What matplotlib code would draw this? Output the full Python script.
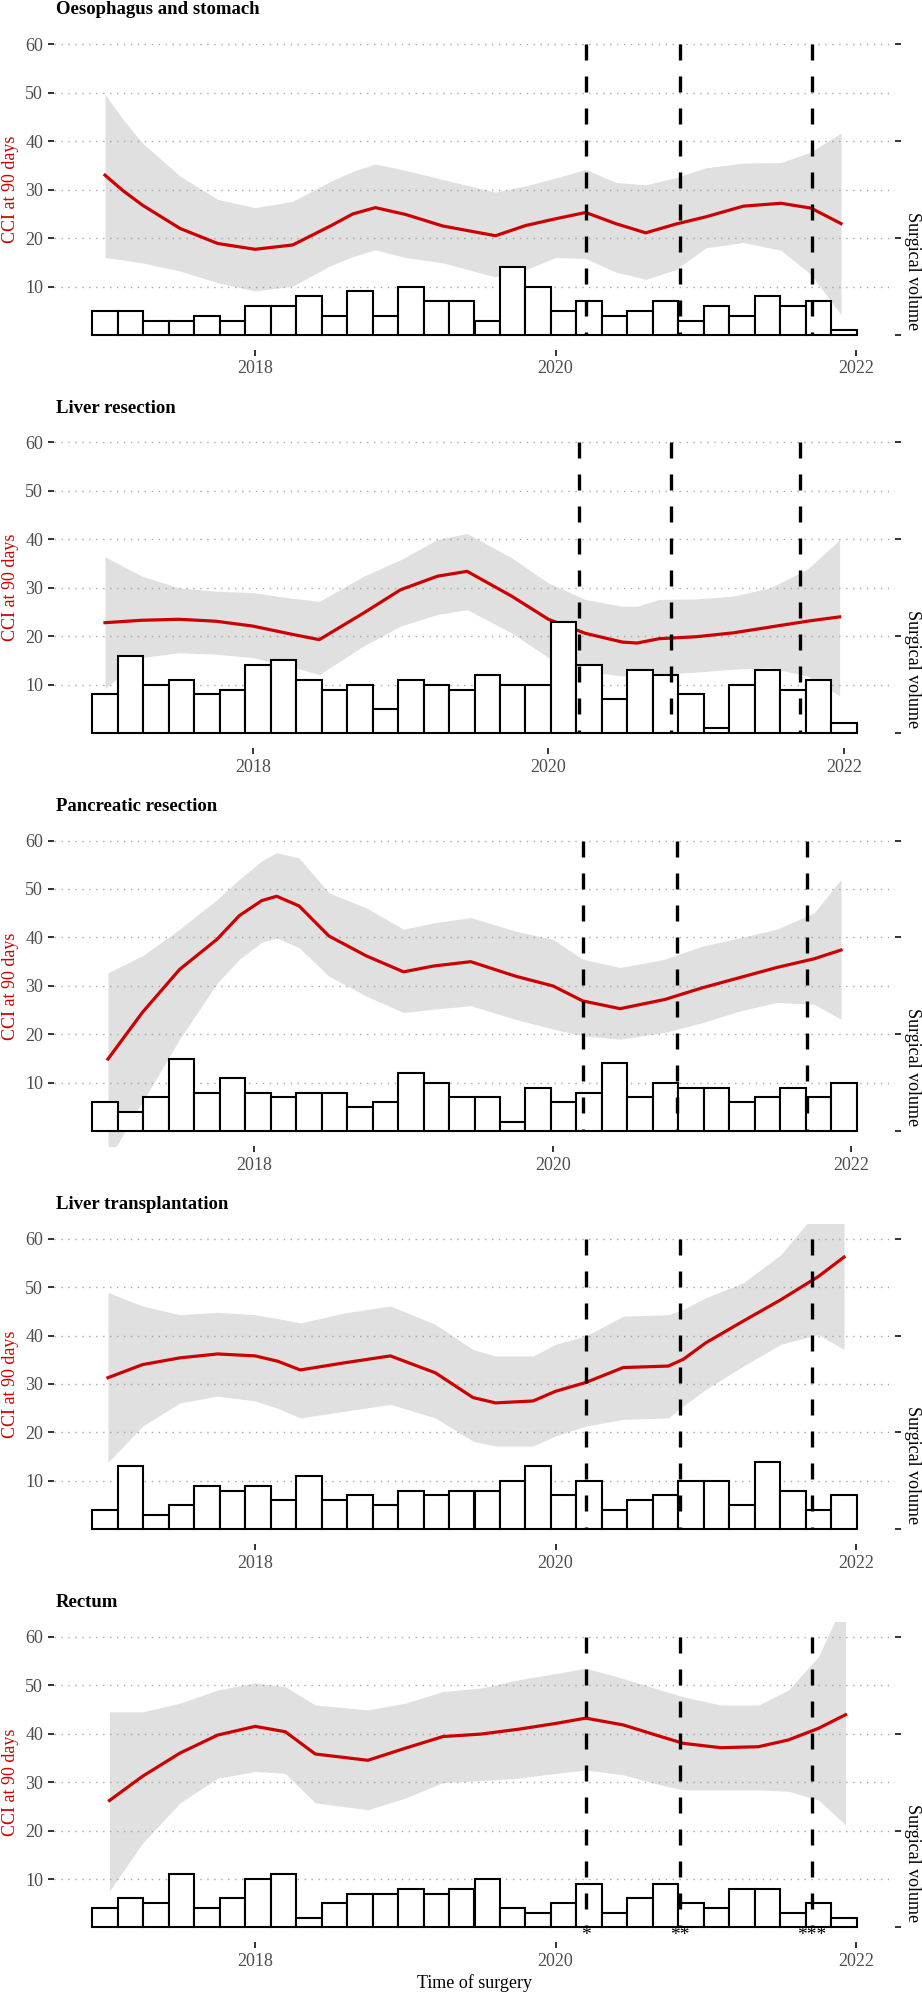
import numpy as np
import matplotlib
matplotlib.use("Agg")
import matplotlib.pyplot as plt

plt.rcParams['font.family'] = ['Liberation Serif', 'DejaVu Serif']

# Panels
panel_titles = ["Oesophagus and stomach", "Liver resection", "Pancreatic resection",
                "Liver transplantation", "Rectum"]

# Histogram: first / last bin centre (decimal years), 30 bins of surgical volume
first_dates = [2017.0, 2017.0, 2017.0, 2017.0, 2017.0]
last_dates = [2021.92, 2022.0, 2021.95, 2021.92, 2021.92]

vol_oeso = [5, 5, 3, 3, 4, 3, 6, 6, 8, 4, 9, 4, 10, 7, 7, 3, 14, 10, 5, 7, 4, 5, 7, 3, 6, 4, 8, 6, 7, 1]
vol_liver = [8, 16, 10, 11, 8, 9, 14, 15, 11, 9, 10, 5, 11, 10, 9, 12, 10, 10, 23, 14, 7, 13, 12, 8, 1, 10, 13, 9, 11, 2]
vol_panc = [6, 4, 7, 15, 8, 11, 8, 7, 8, 8, 5, 6, 12, 10, 7, 7, 2, 9, 6, 8, 14, 7, 10, 9, 9, 6, 7, 9, 7, 10]
vol_ltx = [4, 13, 3, 5, 9, 8, 9, 6, 11, 6, 7, 5, 8, 7, 8, 8, 10, 13, 7, 10, 4, 6, 7, 10, 10, 5, 14, 8, 4, 7]
vol_rect = [4, 6, 5, 11, 4, 6, 10, 11, 2, 5, 7, 7, 8, 7, 8, 10, 4, 3, 5, 9, 3, 6, 9, 5, 4, 8, 8, 3, 5, 2]

# Smoothed CCI at 90 days (line) with confidence band
x_oeso = [2017.0, 2017.12, 2017.25, 2017.5, 2017.75, 2018.0, 2018.25, 2018.5, 2018.65, 2018.8, 2019.0, 2019.25,
          2019.6, 2019.8, 2020.0, 2020.2, 2020.4, 2020.6, 2020.8, 2021.0, 2021.25, 2021.5, 2021.7, 2021.9]
cci_oeso = [33.0, 29.8, 26.8, 22.0, 18.9, 17.7, 18.6, 22.5, 25.0, 26.3, 24.9, 22.5,
            20.5, 22.6, 24.0, 25.3, 23.0, 21.1, 22.9, 24.4, 26.6, 27.2, 26.2, 23.0]
hi_oeso = [49.7, 44.5, 39.6, 32.8, 28.0, 26.3, 27.6, 31.7, 33.8, 35.3, 34.0, 32.1,
           29.5, 30.8, 32.4, 34.2, 31.5, 31.0, 32.5, 34.5, 35.5, 35.6, 37.8, 41.7]
lo_oeso = [16.0, 15.5, 14.9, 13.2, 10.8, 9.1, 10.1, 14.3, 16.2, 17.6, 16.0, 14.9,
           12.0, 13.5, 16.0, 15.8, 13.0, 11.5, 13.5, 18.0, 19.1, 17.5, 12.5, 4.2]

x_liver = [2017.0, 2017.25, 2017.5, 2017.75, 2018.0, 2018.25, 2018.45, 2018.75, 2019.0, 2019.25, 2019.45,
           2019.75, 2020.0, 2020.25, 2020.5, 2020.6, 2020.75, 2021.0, 2021.25, 2021.5, 2021.75, 2021.97]
cci_liver = [22.8, 23.3, 23.5, 23.1, 22.1, 20.5, 19.3, 24.8, 29.6, 32.4, 33.4,
             28.3, 23.5, 20.6, 18.8, 18.6, 19.5, 19.9, 20.7, 21.9, 23.1, 24.0]
hi_liver = [36.4, 32.4, 30.0, 29.3, 29.0, 27.9, 27.2, 32.4, 35.8, 40.0, 41.2,
            36.2, 31.0, 27.6, 26.2, 26.2, 27.6, 27.7, 28.3, 30.0, 33.8, 39.9]
lo_liver = [9.2, 15.6, 16.6, 16.3, 15.6, 13.8, 12.1, 18.0, 22.1, 24.5, 25.5,
            20.7, 15.6, 12.8, 11.8, 11.9, 12.1, 12.6, 13.2, 13.5, 11.8, 7.7]

x_panc = [2017.02, 2017.25, 2017.5, 2017.75, 2017.9, 2018.05, 2018.15, 2018.3, 2018.5, 2018.75, 2019.0, 2019.2,
          2019.45, 2019.75, 2020.0, 2020.2, 2020.45, 2020.75, 2021.0, 2021.25, 2021.5, 2021.75, 2021.93]
cci_panc = [14.9, 24.5, 33.4, 39.6, 44.5, 47.6, 48.5, 46.5, 40.3, 36.2, 32.9, 34.1,
            35.0, 32.0, 30.0, 26.9, 25.3, 27.2, 29.6, 31.7, 33.8, 35.6, 37.4]
hi_panc = [32.7, 36.2, 41.7, 47.8, 52.0, 55.8, 57.5, 56.4, 49.2, 46.1, 41.7, 43.0,
           44.1, 41.3, 39.6, 35.5, 33.8, 35.5, 38.2, 39.9, 41.7, 45.1, 52.0]
lo_panc = [-6.0, 6.0, 19.0, 30.5, 35.5, 39.0, 39.9, 37.9, 32.0, 27.9, 24.5, 25.2,
           25.9, 23.1, 21.1, 19.7, 19.0, 20.4, 22.4, 24.8, 26.6, 26.2, 23.1]

x_ltx = [2017.02, 2017.25, 2017.5, 2017.75, 2018.0, 2018.15, 2018.3, 2018.6, 2018.9, 2019.2, 2019.45,
         2019.6, 2019.85, 2020.0, 2020.2, 2020.45, 2020.75, 2020.85, 2021.0, 2021.25, 2021.5, 2021.75, 2021.92]
cci_ltx = [31.3, 34.0, 35.4, 36.2, 35.8, 34.7, 32.9, 34.4, 35.8, 32.3, 27.2,
           26.1, 26.5, 28.5, 30.3, 33.4, 33.7, 35.1, 38.5, 43.0, 47.4, 52.2, 56.2]
hi_ltx = [48.9, 46.1, 44.3, 44.8, 44.3, 43.5, 42.6, 44.7, 46.1, 42.3, 37.1,
          35.8, 35.8, 38.2, 39.9, 44.0, 44.3, 45.4, 47.8, 50.9, 56.7, 66.0, 75.0]
lo_ltx = [13.8, 21.3, 26.1, 27.5, 26.5, 25.0, 23.0, 24.4, 25.8, 23.0, 18.2,
          17.2, 17.2, 19.3, 21.3, 22.7, 23.0, 25.5, 28.9, 33.7, 38.2, 40.2, 37.1]

x_rect = [2017.03, 2017.25, 2017.5, 2017.75, 2018.0, 2018.2, 2018.4, 2018.75, 2019.0, 2019.25, 2019.5,
          2019.75, 2020.0, 2020.2, 2020.45, 2020.7, 2020.85, 2021.1, 2021.35, 2021.55, 2021.75, 2021.93]
cci_rect = [26.2, 31.2, 36.0, 39.7, 41.5, 40.4, 35.8, 34.5, 37.0, 39.4, 39.9,
            40.9, 42.1, 43.2, 41.8, 39.4, 38.0, 37.1, 37.3, 38.7, 41.1, 43.9]
hi_rect = [44.5, 44.5, 46.3, 49.0, 50.5, 49.7, 45.9, 44.9, 46.3, 48.7, 49.4,
           51.1, 52.4, 53.5, 51.4, 49.0, 47.6, 45.9, 45.9, 49.0, 55.9, 68.0]
lo_rect = [7.5, 17.4, 25.7, 30.8, 32.2, 31.8, 25.7, 24.3, 26.7, 29.9, 30.3,
           30.8, 31.8, 32.5, 31.5, 29.4, 28.4, 28.4, 28.4, 28.1, 26.3, 21.2]

volumes = [vol_oeso, vol_liver, vol_panc, vol_ltx, vol_rect]
smooth_x = [x_oeso, x_liver, x_panc, x_ltx, x_rect]
smooth_cci = [cci_oeso, cci_liver, cci_panc, cci_ltx, cci_rect]
smooth_hi = [hi_oeso, hi_liver, hi_panc, hi_ltx, hi_rect]
smooth_lo = [lo_oeso, lo_liver, lo_panc, lo_ltx, lo_rect]

# Breakpoints (dashed lines) and their marks on the last panel
break_dates = [2020.205, 2020.83, 2021.705]
break_marks = ["*", "**", "***"]

cci_ticks = [10, 20, 30, 40, 50, 60]
vol_ticks = [0, 20, 40, 60]
year_ticks = [2018, 2020, 2022]

W, H = 922, 1995
fig = plt.figure(figsize=(W / 100, H / 100), dpi=100)

red = "#CD0000"
tick_grey = "#4D4D4D"

for i in range(5):
    top_px = 29.8 + 398.1 * i
    height_px = 319.8
    ax = fig.add_axes([54 / W, 1 - (top_px + height_px) / H, (895 - 54) / W, height_px / H])

    # grid
    for t in cci_ticks:
        ax.axhline(t, color="#A6A6A6", lw=1.0, linestyle=(0, (1, 4)), zorder=0)

    # smooth + band
    ax.fill_between(smooth_x[i], smooth_lo[i], smooth_hi[i], color="#999999", alpha=0.3,
                    linewidth=0, zorder=1)
    ax.plot(smooth_x[i], smooth_cci[i], color=red, lw=2.3, zorder=2, solid_joinstyle="round")

    # histogram of volume
    n = len(volumes[i])
    width = (last_dates[i] - first_dates[i]) / (n - 1)
    centers = np.linspace(first_dates[i], last_dates[i], n)
    ax.bar(centers, volumes[i], width=width, color="white", edgecolor="black",
           linewidth=1.5, zorder=3)

    # breakpoints
    for d in break_dates:
        ax.plot([d, d], [60, 0], color="black", lw=2.4, linestyle=(0, (4.8, 4.8)), zorder=4)

    left_edge = first_dates[i] - width / 2
    right_edge = last_dates[i] + width / 2
    pad = 0.05 * (right_edge - left_edge)
    ax.set_xlim(left_edge - pad, right_edge + pad)
    ax.set_ylim(-3, 63)

    for s in ax.spines.values():
        s.set_visible(False)

    ax.set_yticks(cci_ticks)
    ax.set_xticks(year_ticks)
    ax.set_xticklabels([str(y) for y in year_ticks])
    ax.tick_params(axis="both", labelsize=13, labelcolor=tick_grey, color="#333333",
                   width=1.4, length=4.3, pad=3.5)

    sec = ax.secondary_yaxis("right")
    sec.set_yticks(vol_ticks)
    sec.set_yticklabels([])
    sec.spines["right"].set_visible(False)
    sec.tick_params(color="#333333", width=1.4, length=4.0)

    ax.annotate(panel_titles[i], xy=(0, 1), xycoords="axes fraction", xytext=(1.5, 14.3),
                textcoords="offset points", ha="left", va="center", fontsize=13.5,
                fontweight="bold")

    # axis titles
    ax.text((11 - 54) / 841, 0.5, "CCI at 90 days", transform=ax.transAxes,
            rotation=90, ha="center", va="center", fontsize=13, color=red)
    ax.text((912 - 54) / 841, 1, "Surgical volume", transform=ax.get_yaxis_transform(),
            rotation=270, ha="center", va="bottom", fontsize=13, color="black")

    if i == 4:
        for d, m in zip(break_dates, break_marks):
            ax.text(d, -1.6, m, ha="center", va="center", fontsize=14, zorder=5)

fig.text(474.5 / W, 1 - 1983 / H, "Time of surgery", ha="center", va="center", fontsize=13)

fig.savefig("out.png", dpi=100)
